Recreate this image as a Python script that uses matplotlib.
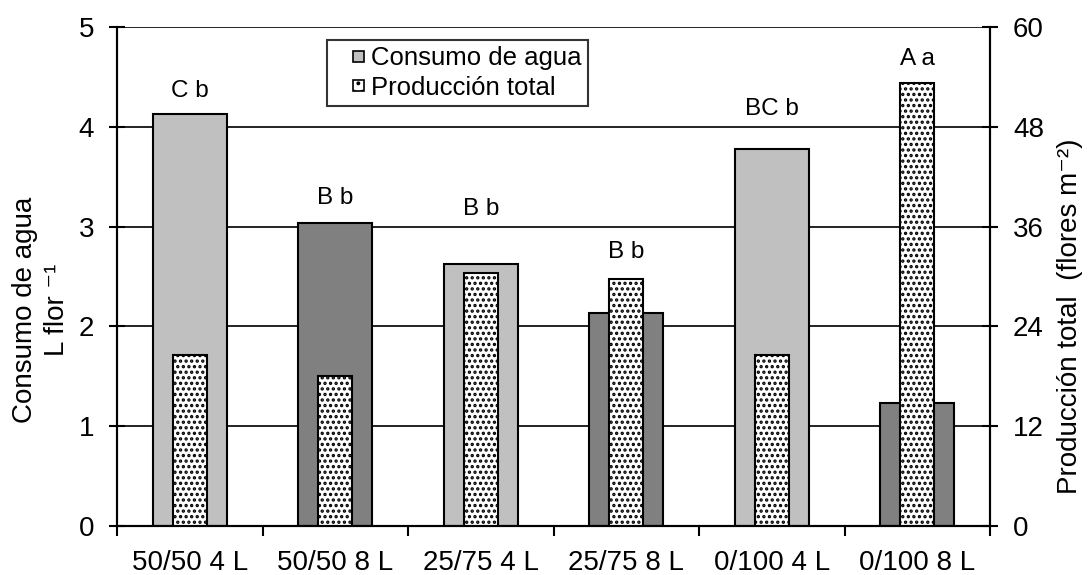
import matplotlib
matplotlib.use("Agg")
import matplotlib.pyplot as plt
import numpy as np
from matplotlib.patches import Patch, Rectangle
from matplotlib.legend_handler import HandlerPatch

plt.rcParams['font.family'] = ['Liberation Sans', 'DejaVu Sans']
plt.rcParams['hatch.linewidth'] = 1.6

categories = ["50/50 4 L", "50/50 8 L", "25/75 4 L", "25/75 8 L", "0/100 4 L", "0/100 8 L"]
consumo = [4.13, 3.04, 2.63, 2.13, 3.78, 1.23]
produccion = [20.6, 18.0, 30.4, 29.7, 20.6, 53.3]
bar_colors = ["#c0c0c0", "#808080", "#c0c0c0", "#808080", "#c0c0c0", "#808080"]
letters = ["C b", "B b", "B b", "B b", "BC b", "A a"]
letter_y = [4.30, 3.23, 3.12, 2.69, 4.12, 4.62]

fig = plt.figure(figsize=(10.89, 5.75), dpi=100)
ax = fig.add_axes([117/1089, 1-526/575, (990-117)/1089, (526-27)/575])
ax2 = ax.twinx()

x = np.arange(len(categories))
ax.bar(x, consumo, width=0.51, color=bar_colors, edgecolor='black', linewidth=1.5, zorder=2)
ax2.bar(x, produccion, width=0.233, color='white', edgecolor='black', linewidth=1.5,
        hatch='...', zorder=2)

for xi, t, yy in zip(x, letters, letter_y):
    ax.text(xi, yy, t, ha='center', va='baseline', fontsize=17.5)

ax.set_xlim(-0.5, len(categories)-0.5)
ax.set_ylim(0, 5)
ax2.set_ylim(0, 60)
ax.set_yticks([0, 1, 2, 3, 4, 5])
ax2.set_yticks([0, 12, 24, 36, 48, 60])
ax.yaxis.grid(True, color='#111111', linewidth=1.3)
ax.set_axisbelow(True)

ax.set_xticks(np.arange(-0.5, len(categories)), minor=False)
ax.set_xticklabels([])
ax.set_xticks(x, minor=True)
ax.set_xticklabels(categories, minor=True, fontsize=20)
ax.tick_params(axis='x', which='minor', length=0, pad=17)
ax.tick_params(axis='x', which='major', direction='out', length=7, width=1.5)
ax.tick_params(axis='y', direction='inout', length=11, width=1.5, labelsize=20, pad=11)
ax2.tick_params(axis='y', direction='inout', length=11, width=1.5, labelsize=20, pad=11)

for a in (ax, ax2):
    a.spines['top'].set_visible(False)
    for s in ('left', 'right', 'bottom'):
        a.spines[s].set_linewidth(1.5)

fig.text(41/1089, 1-310/575, "Consumo de agua\nL flor \u207b\u00b9", rotation=90,
         ha='center', va='center', multialignment='center', fontsize=20, linespacing=1.3)
fig.text(1070/1089, 1-316/575, "Producción total  (flores m\u207b\u00b2)", rotation=90,
         ha='center', va='center', fontsize=20)


def small_square(legend, orig_handle, xdescent, ydescent, width, height, fontsize):
    s = 8.0
    return Rectangle((-xdescent + width - s, -ydescent + (height - s) / 2), s, s)


handles = [Patch(facecolor='#c0c0c0', edgecolor='black', linewidth=1.2),
           Patch(facecolor='white', edgecolor='black', linewidth=1.2, hatch='..')]
leg = fig.legend(handles, ["Consumo de agua", "Producción total"], loc='upper left',
                 bbox_to_anchor=(327/1089, 1-40/575), fontsize=18.5, frameon=True,
                 fancybox=False, handlelength=1.2, handleheight=0.7, handletextpad=0.25,
                 borderpad=0.25, labelspacing=0.2, edgecolor='black', borderaxespad=0,
                 handler_map={Patch: HandlerPatch(patch_func=small_square)})
leg.get_frame().set_linewidth(1.5)

fig.savefig("out.png", dpi=100)
